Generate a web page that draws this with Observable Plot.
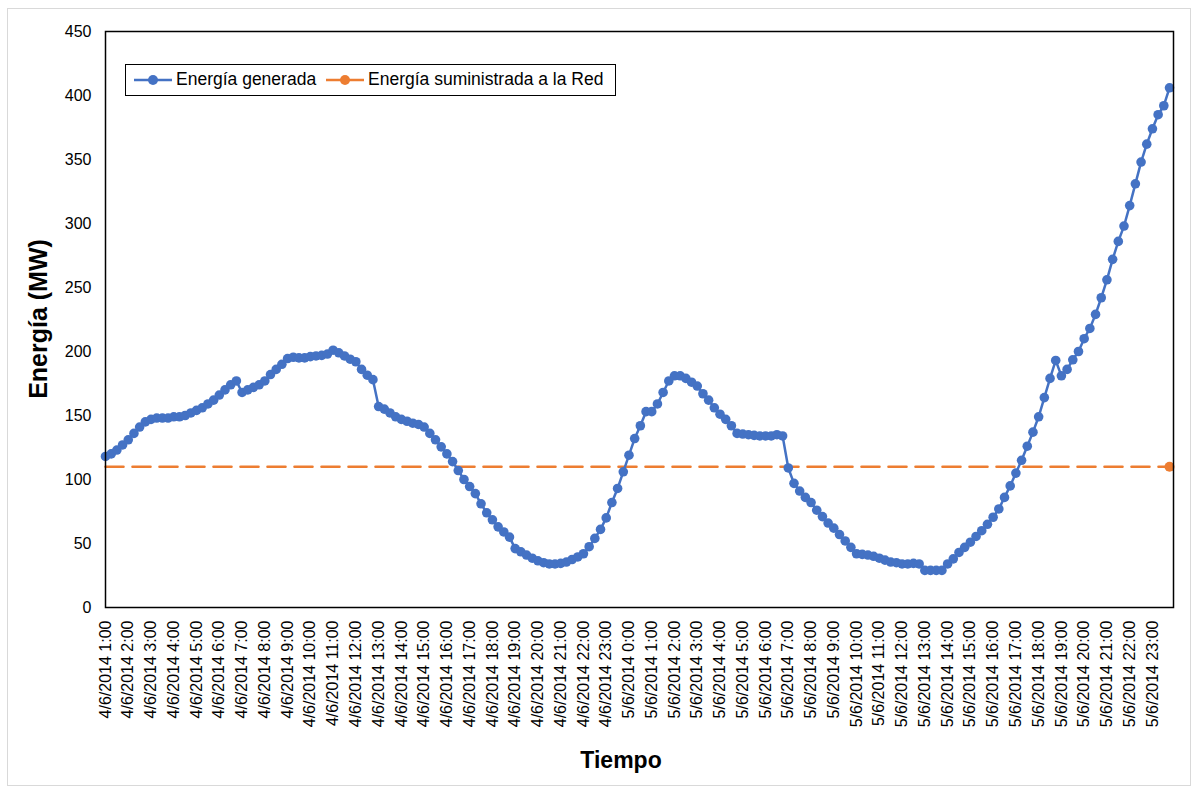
<!DOCTYPE html>
<html>
<head>
<meta charset="utf-8">
<script src="https://cdn.jsdelivr.net/npm/d3@7"></script>
<script src="https://cdn.jsdelivr.net/npm/@observablehq/plot@0.6"></script>
<style>
  html, body { margin: 0; padding: 0; background: #fff; }
  #wrap { position: relative; width: 1194px; height: 791px; font-family: "Liberation Sans", Arial, sans-serif; }
  #border { position: absolute; left: 7px; top: 8px; width: 1184px; height: 778px; border: 1px solid #d9d9d9; box-sizing: border-box; pointer-events: none; }
  #legend { position: absolute; left: 125px; top: 64px; width: 491px; height: 32px; border: 1.5px solid #000; box-sizing: border-box; background: #fff; }
  .lg-item { position: absolute; top: 0; height: 29px; display: flex; align-items: center; font-size: 17.5px; color: #000; white-space: nowrap; }
  .ytitle { position: absolute; left: 38px; top: 319px; transform: translate(-50%, -50%) rotate(-90deg); font-weight: bold; font-size: 25px; white-space: nowrap; }
  .xtitle { position: absolute; left: 621px; top: 760px; transform: translate(-50%, -50%); font-weight: bold; font-size: 23px; white-space: nowrap; }
</style>
</head>
<body>
<div id="wrap">
  <div id="chart"></div>
  <div id="border"></div>
  <div class="ytitle">Energía (MW)</div>
  <div class="xtitle">Tiempo</div>
  <div id="legend"></div>
</div>
<script>
// Series names
const seriesNames = ["Energía generada", "Energía suministrada a la Red"];
const seriesColors = ["#4472C4", "#ED7D31"];

// Hourly tick labels (one label every 4 samples of 15 minutes)
const tickLabels = [
  "4/6/2014 1:00","4/6/2014 2:00","4/6/2014 3:00","4/6/2014 4:00","4/6/2014 5:00","4/6/2014 6:00",
  "4/6/2014 7:00","4/6/2014 8:00","4/6/2014 9:00","4/6/2014 10:00","4/6/2014 11:00","4/6/2014 12:00",
  "4/6/2014 13:00","4/6/2014 14:00","4/6/2014 15:00","4/6/2014 16:00","4/6/2014 17:00","4/6/2014 18:00",
  "4/6/2014 19:00","4/6/2014 20:00","4/6/2014 21:00","4/6/2014 22:00","4/6/2014 23:00",
  "5/6/2014 0:00","5/6/2014 1:00","5/6/2014 2:00","5/6/2014 3:00","5/6/2014 4:00","5/6/2014 5:00",
  "5/6/2014 6:00","5/6/2014 7:00","5/6/2014 8:00","5/6/2014 9:00","5/6/2014 10:00","5/6/2014 11:00",
  "5/6/2014 12:00","5/6/2014 13:00","5/6/2014 14:00","5/6/2014 15:00","5/6/2014 16:00","5/6/2014 17:00",
  "5/6/2014 18:00","5/6/2014 19:00","5/6/2014 20:00","5/6/2014 21:00","5/6/2014 22:00","5/6/2014 23:00"
];
const samplesPerLabel = 4;

// Energía generada (MW), every 15 minutes from 4/6/2014 1:00 to 5/6/2014 23:45
const generada = [
  118,120,123,127,131,136,141,145,147,148,148,148,149,149,150,152,154,156,159,162,166,170,174,177,
  168,170,172,174,177,182,186,190,194.5,195.5,195,195,196,196.5,197,198,201,199,196.5,194,192,186,181.5,178,
  157,155,152,149,147,145.5,144,143,141,136,131,125.5,120,114,107,100,94.5,89,81,74,68.5,63,59,55,
  46,43.5,41,38.5,36.5,35,34,34,34.5,35.5,37.5,39.5,42,47.5,54,61,70,82,93,106,119,132,142,153,
  153,159,168,177,181,181,179,176,173,167,162,156,151,147,142,136,135.5,135,134.5,134,134,134,135,134,
  109,97,91,86,82,76,71,66,62,57,52,47,42,41.5,41,40,38.5,37,35.5,35,34,34,34.5,34,
  29,29,29,29,34,38,43,47,51,55.5,60,65,70.5,77,86,95,105,115,126,137,149,164,179,193,
  181,186,193.5,200,210,218,229,242,256,272,286,298,314,331,348,362,374,385,392,406
];
// Energía suministrada a la Red (MW): constant
const suministradaValue = 110;

const yTicks = [0, 50, 100, 150, 200, 250, 300, 350, 400, 450];

const gen = generada.map((v, i) => ({i, v}));
const sum = generada.map((_, i) => ({i, v: suministradaValue}));
const lastSum = [sum[sum.length - 1]];
const xTicks = tickLabels.map((_, k) => k * samplesPerLabel);

const chart = Plot.plot({
  width: 1194,
  height: 791,
  marginLeft: 105,
  marginRight: 21,
  marginTop: 31,
  marginBottom: 184,
  style: {fontFamily: "'Liberation Sans', Arial, sans-serif", background: "transparent", color: "#000"},
  x: {domain: [0, generada.length - 0.3]},
  y: {domain: [0, 450]},
  marks: [
    Plot.axisY({ticks: yTicks, tickSize: 0, tickPadding: 14, fontSize: 16, label: null}),
    Plot.axisX({ticks: xTicks, tickSize: 0, tickPadding: 13, tickRotate: -90, fontSize: 16,
      tickFormat: d => tickLabels[d / samplesPerLabel], label: null}),
    Plot.lineY(sum, {x: "i", y: "v", stroke: seriesColors[1], strokeWidth: 2.6, strokeDasharray: "18,9"}),
    Plot.dot(lastSum, {x: "i", y: "v", r: 5, fill: seriesColors[1]}),
    Plot.lineY(gen, {x: "i", y: "v", stroke: seriesColors[0], strokeWidth: 2.5}),
    Plot.dot(gen, {x: "i", y: "v", r: 4.8, fill: seriesColors[0]}),
    Plot.frame({stroke: "#000", strokeWidth: 1.5})
  ]
});
document.getElementById("chart").appendChild(chart);

// Legend
const legend = document.getElementById("legend");
const lgPos = [{sym: 8, txt: 49}, {sym: 200, txt: 242}];
seriesNames.forEach((name, k) => {
  const item = document.createElement("div");
  item.className = "lg-item";
  item.style.left = lgPos[k].sym + "px";
  item.innerHTML = `<svg width="38" height="14" style="margin-right:4px"><line x1="0" x2="38" y1="7" y2="7" stroke="${seriesColors[k]}" stroke-width="2.5"/><circle cx="19" cy="7" r="5" fill="${seriesColors[k]}"/></svg><span>${name}</span>`;
  legend.appendChild(item);
});
</script>
</body>
</html>
